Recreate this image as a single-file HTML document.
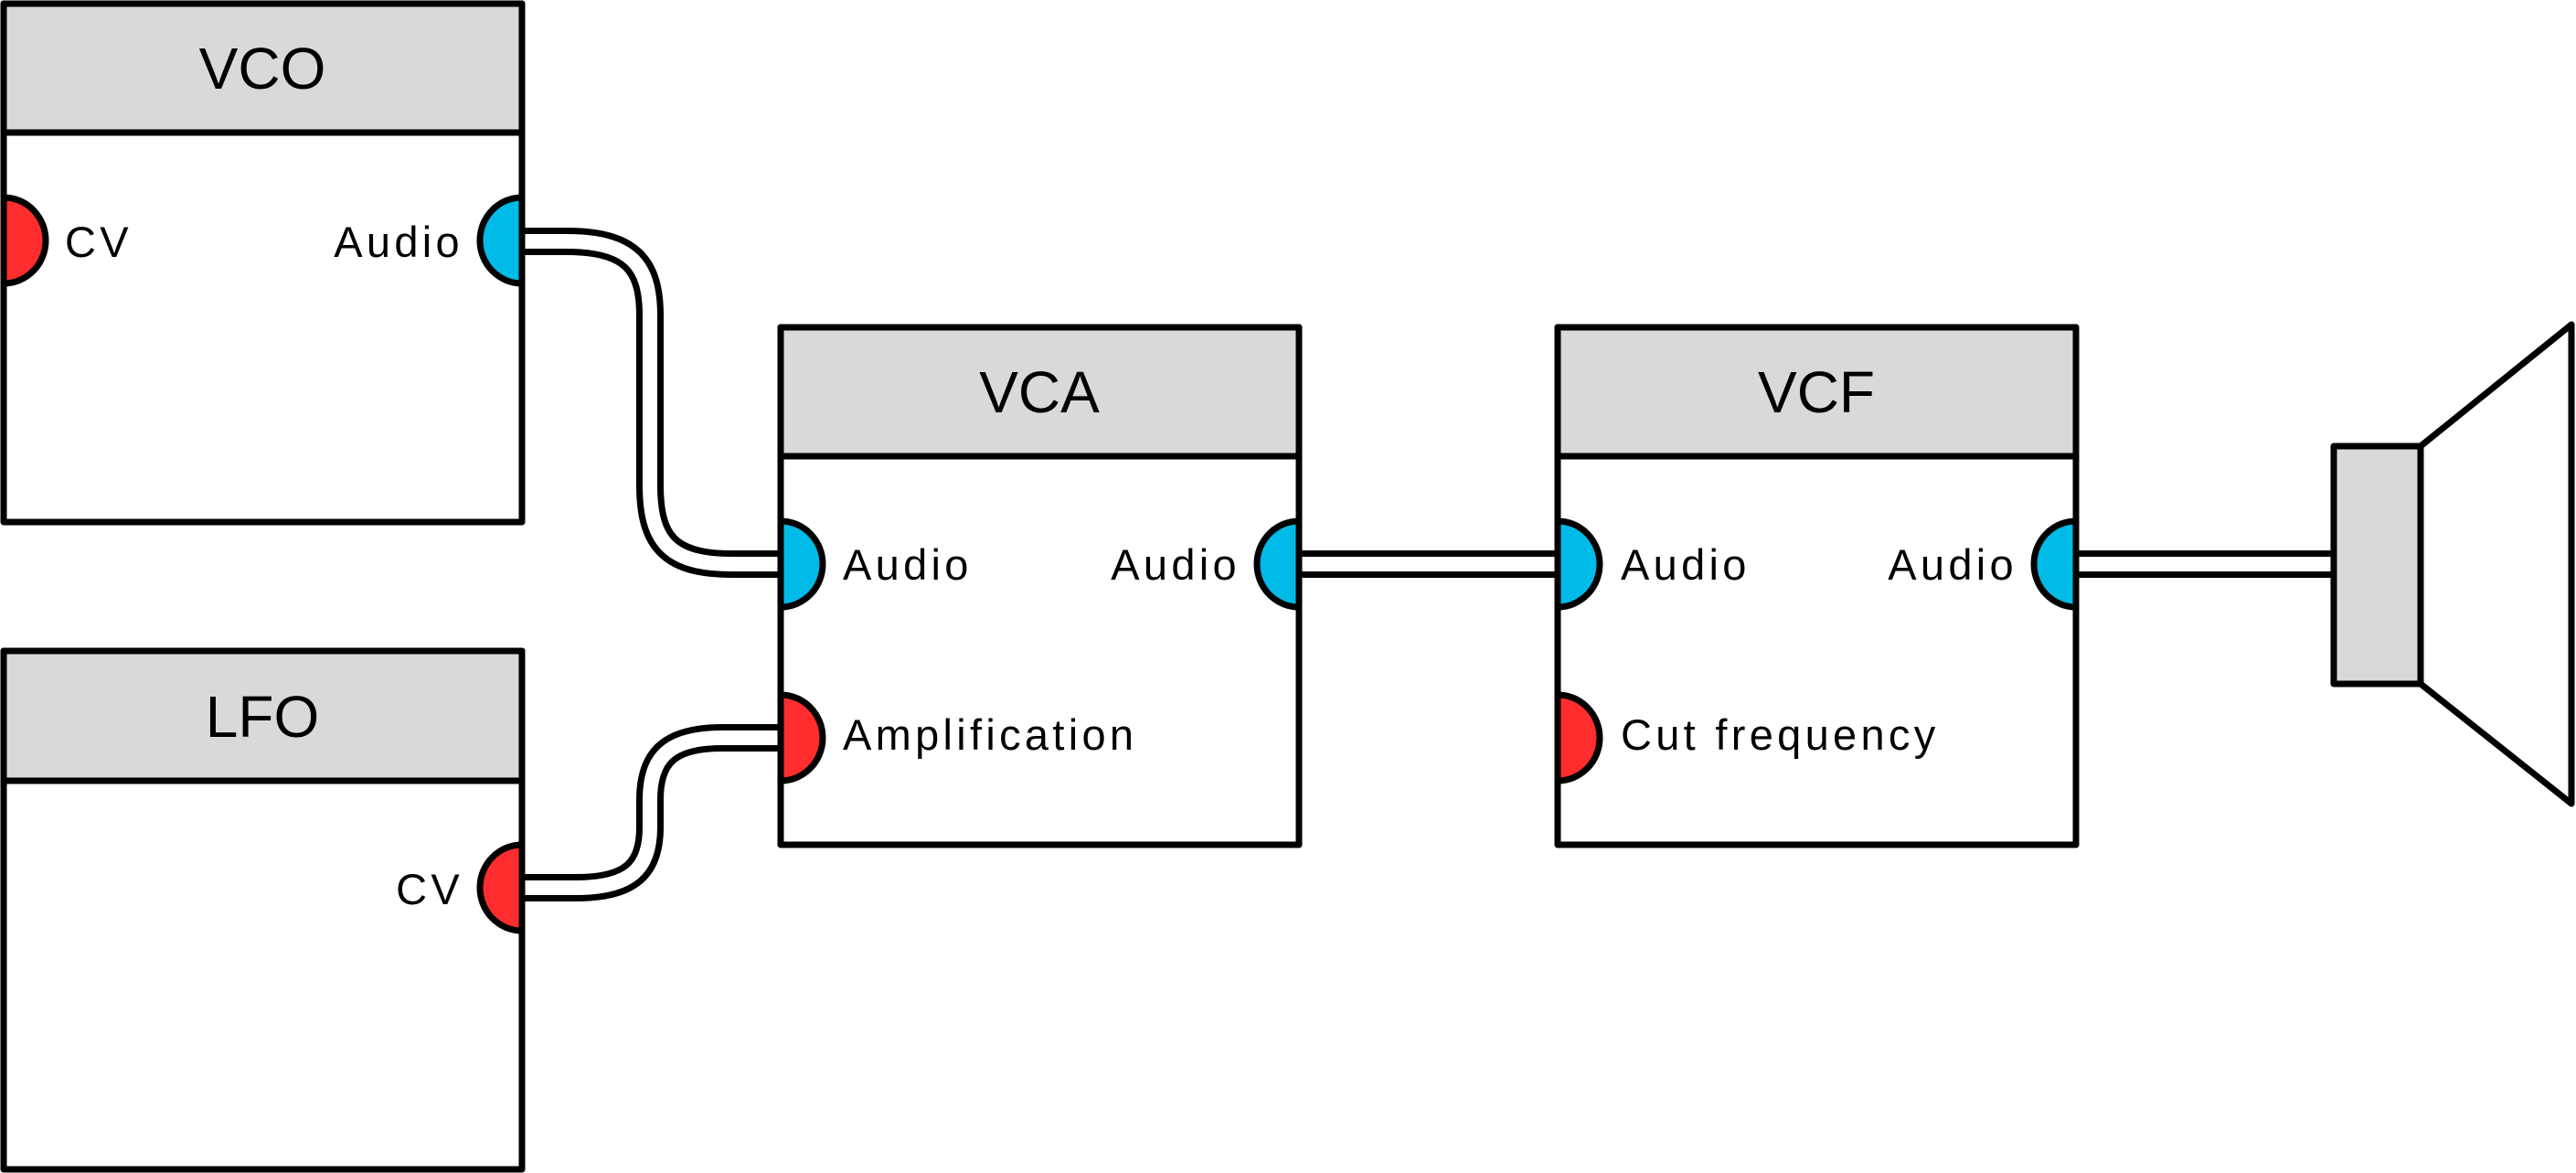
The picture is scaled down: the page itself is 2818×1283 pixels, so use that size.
<!DOCTYPE html>
<html><head><meta charset="utf-8"><style>
html,body{margin:0;padding:0;background:#fff;}
svg{display:block;}
text{font-family:"Liberation Sans",sans-serif;fill:#000;}
.t{font-size:64px;text-anchor:middle;}
.l{font-size:47px;letter-spacing:4.3px;}
.r{font-size:47px;text-anchor:end;letter-spacing:4.3px;}
</style></head><body>
<svg width="2818" height="1283" viewBox="0 0 2818 1283" xmlns="http://www.w3.org/2000/svg">
<g stroke="#000" stroke-width="7" stroke-linejoin="round">
  <rect x="4" y="4" width="567" height="567" fill="#fff"/>
  <rect x="4" y="4" width="567" height="141" fill="#d9d9d9"/>
  <rect x="4" y="712" width="567" height="567" fill="#fff"/>
  <rect x="4" y="712" width="567" height="142" fill="#d9d9d9"/>
  <rect x="854" y="358" width="567" height="566" fill="#fff"/>
  <rect x="854" y="358" width="567" height="141" fill="#d9d9d9"/>
  <rect x="1704" y="358" width="567" height="566" fill="#fff"/>
  <rect x="1704" y="358" width="567" height="141" fill="#d9d9d9"/>
</g>
<g fill="none" stroke-linejoin="round">
  <g stroke="#000" stroke-width="30">
    <path d="M571,264 H620 C690,264 711,290 711,345 V530 C711,590 730,617 800,617 H854"/>
    <path d="M571,971 H630 C690,971 711,950 711,905 V875 C711,830 730,807 790,807 H854"/>
    <path d="M1421,617 H1704"/>
    <path d="M2271,617 H2553"/>
  </g>
  <g stroke="#fff" stroke-width="16">
    <path d="M568,264 H620 C690,264 711,290 711,345 V530 C711,590 730,617 800,617 H857"/>
    <path d="M568,971 H630 C690,971 711,950 711,905 V875 C711,830 730,807 790,807 H857"/>
    <path d="M1418,617 H1707"/>
    <path d="M2268,617 H2553"/>
  </g>
</g>
<g stroke="#000" stroke-width="7" stroke-linejoin="round">
  <polygon points="2648,488 2813,355 2813,879 2648,748" fill="#fff"/>
  <rect x="2553" y="488" width="95" height="260" fill="#d9d9d9"/>
</g>
<g stroke="#000" stroke-width="7">
  <path d="M4,216 A46,47 0 0 1 4,310 Z" fill="#ff2d2d"/>
  <path d="M571,216 A46,47 0 0 0 571,310 Z" fill="#00bbe8"/>
  <path d="M571,924 A46,47 0 0 0 571,1018 Z" fill="#ff2d2d"/>
  <path d="M854,570 A46,47 0 0 1 854,664 Z" fill="#00bbe8"/>
  <path d="M854,760 A46,47 0 0 1 854,854 Z" fill="#ff2d2d"/>
  <path d="M1421,570 A46,47 0 0 0 1421,664 Z" fill="#00bbe8"/>
  <path d="M1704,570 A46,47 0 0 1 1704,664 Z" fill="#00bbe8"/>
  <path d="M1704,760 A46,47 0 0 1 1704,854 Z" fill="#ff2d2d"/>
  <path d="M2271,570 A46,47 0 0 0 2271,664 Z" fill="#00bbe8"/>
</g>
<text class="t" x="287" y="97">VCO</text>
<text class="t" x="287" y="806">LFO</text>
<text class="t" x="1137" y="451">VCA</text>
<text class="t" x="1987" y="451">VCF</text>
<text class="l" x="71" y="281">CV</text>
<text class="r" x="507" y="281">Audio</text>
<text class="r" x="507" y="989">CV</text>
<text class="l" x="922" y="634">Audio</text>
<text class="l" x="922" y="820">Amplification</text>
<text class="r" x="1357" y="634">Audio</text>
<text class="l" x="1773" y="634">Audio</text>
<text class="l" x="1773" y="820">Cut frequency</text>
<text class="r" x="2207" y="634">Audio</text>
</svg>
</body></html>
